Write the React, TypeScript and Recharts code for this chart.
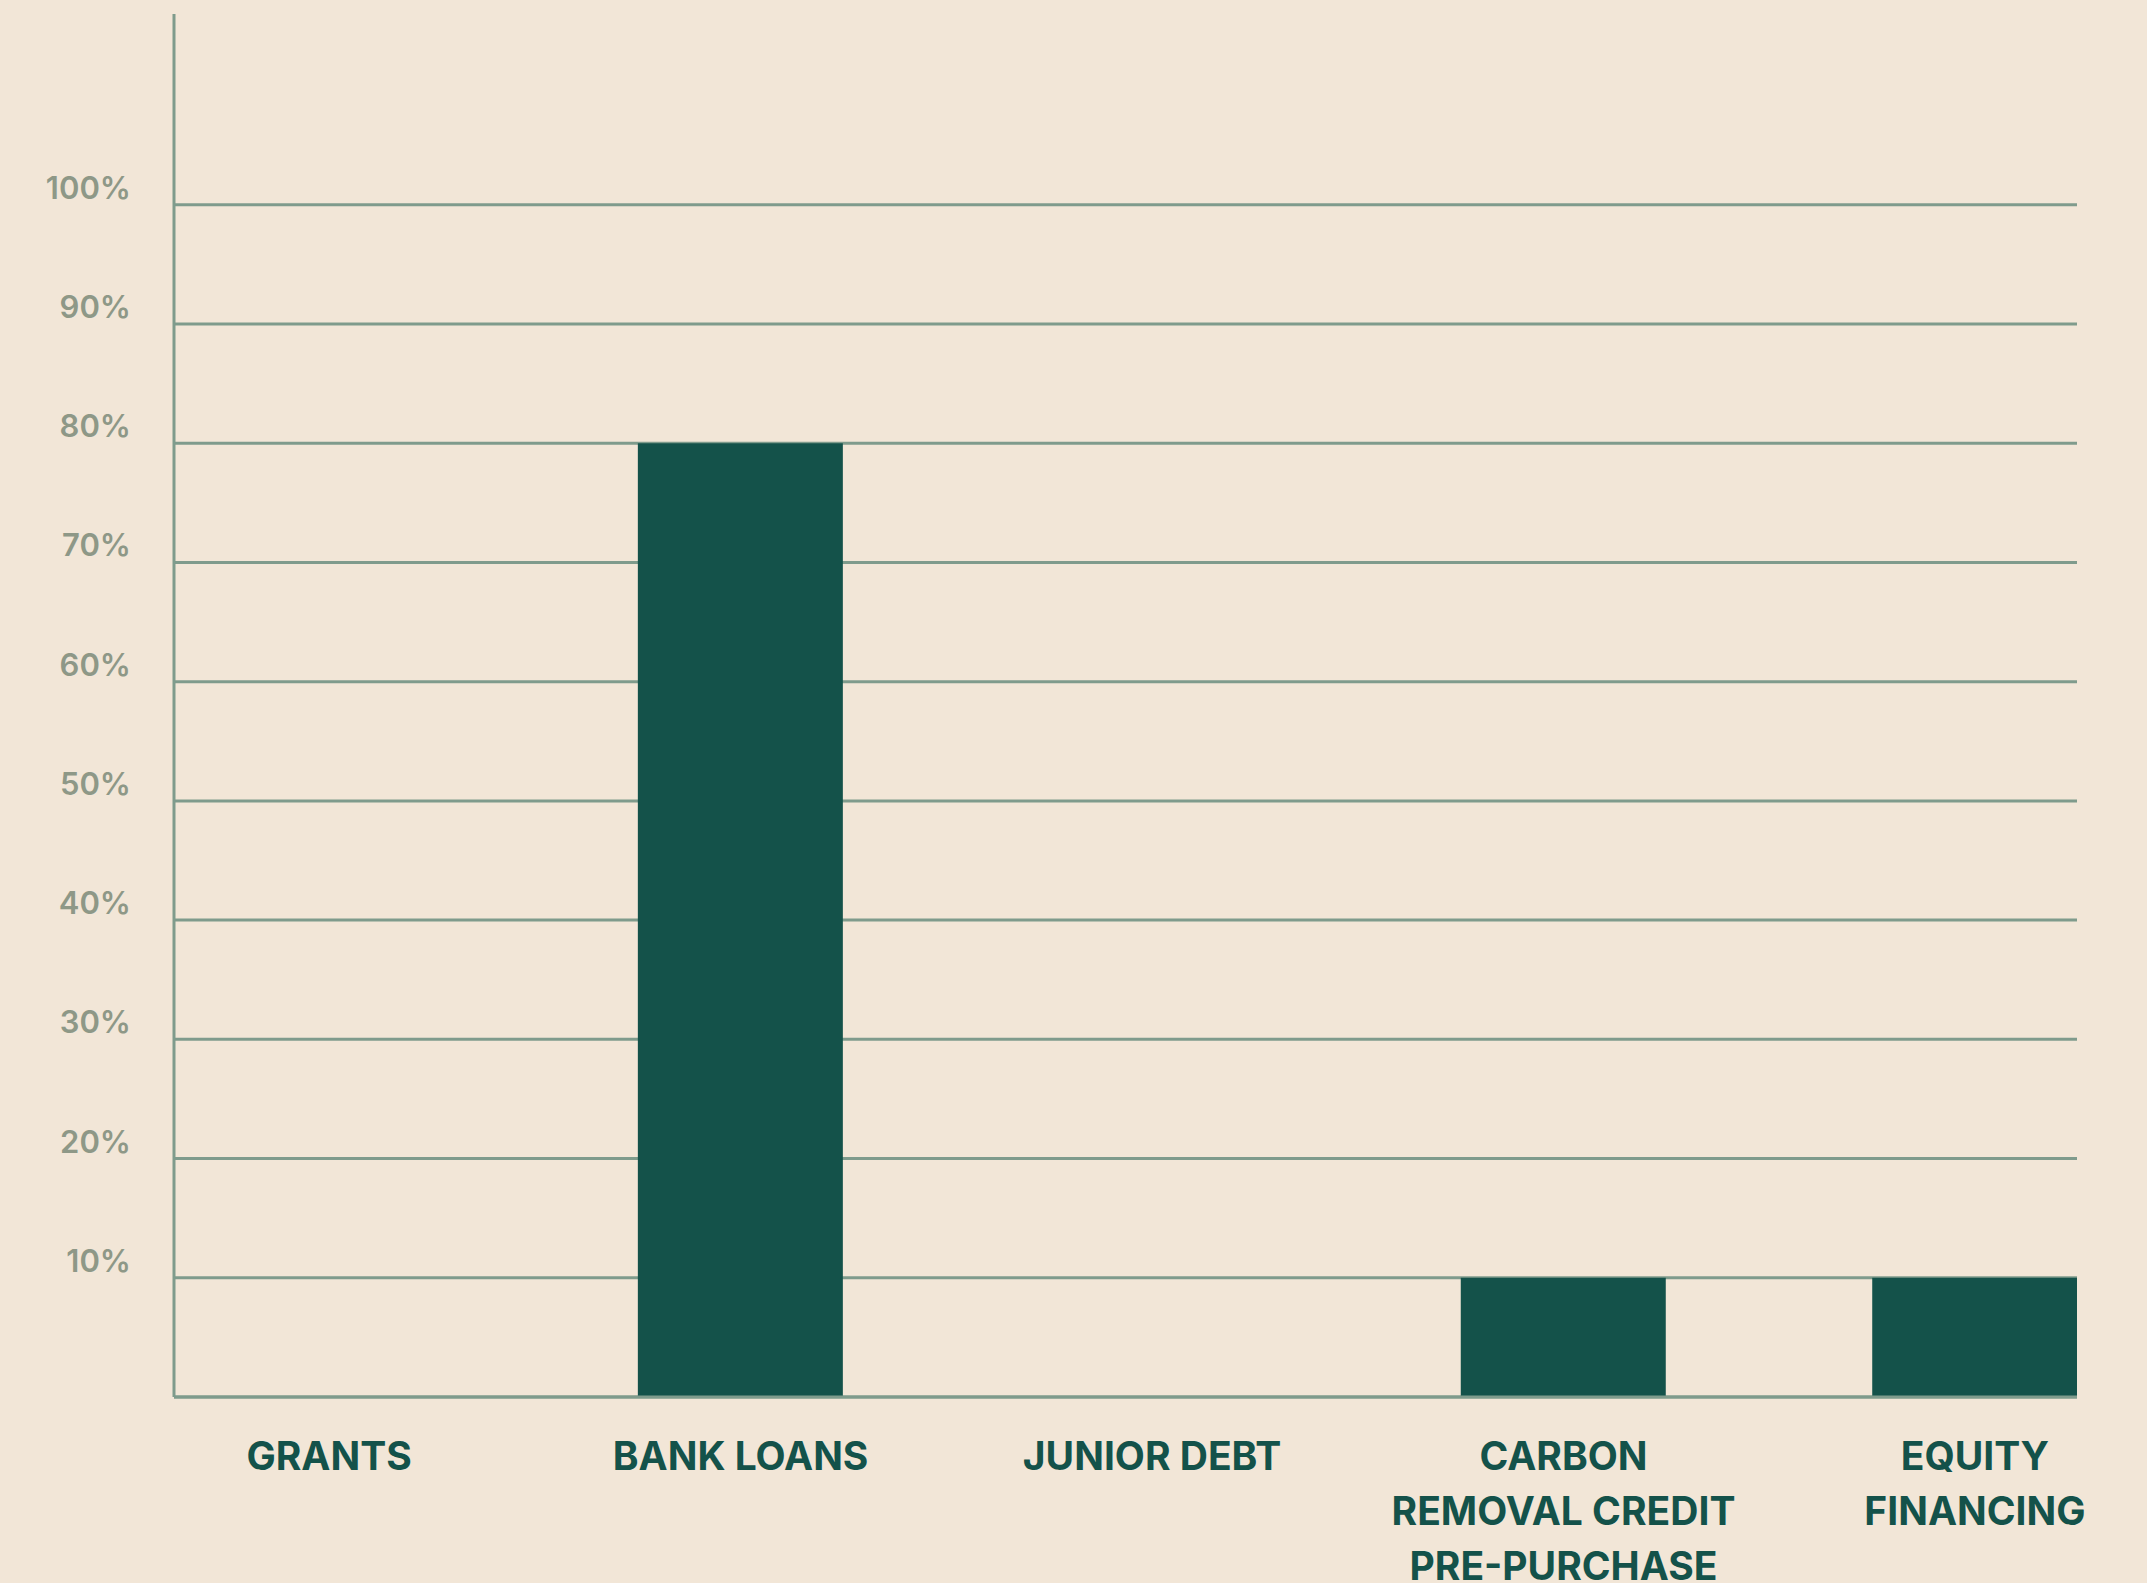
import React from 'react';
import { BarChart, Bar, XAxis, YAxis, CartesianGrid } from 'recharts';

const categories = [
  'GRANTS',
  'BANK LOANS',
  'JUNIOR DEBT',
  'CARBON\nREMOVAL CREDIT\nPRE-PURCHASE',
  'EQUITY\nFINANCING',
];
const shares = [0, 80, 0, 10, 10];
const yTicks = [0, 10, 20, 30, 40, 50, 60, 70, 80, 90, 100];

const data = categories.map((name, i) => ({ idx: i, name, value: shares[i] }));

const BG = '#f2e6d7';
const BAR = '#14524a';
const LINE = '#7f9b8c';
const TICK = '#8e9887';
const FONT = 'Inter, "Noto Sans", sans-serif';

const CategoryTick = ({ x, y, payload }: any) => {
  const lines = categories[payload.value].split('\n');
  return (
    <text x={x} y={y + 73} textAnchor="middle" fill={BAR} fontFamily={FONT} fontWeight={700} fontSize={39}>
      {lines.map((l, i) => (
        <tspan key={i} x={x} dy={i === 0 ? 0 : 55}>
          {l}
        </tspan>
      ))}
    </text>
  );
};

const PercentTick = ({ x, y, payload }: any) => {
  if (payload.value === 0) return null;
  return (
    <text x={x} y={y - 6} textAnchor="end" fill={TICK} fontFamily={FONT} fontWeight={600} fontSize={31}>
      {`${payload.value}%`}
    </text>
  );
};

export default function App() {
  return (
    <div style={{ position: 'absolute', left: 0, top: 0, width: 2147, height: 1583, background: BG }}>
      <BarChart width={2147} height={1583} data={data} margin={{ top: 14, right: 70, left: 0, bottom: 0 }}>
        <CartesianGrid vertical={false} horizontalValues={yTicks} stroke={LINE} strokeWidth={3} />
        <XAxis
          dataKey="idx"
          type="number"
          domain={[-0.377, 4.248]}
          ticks={[0, 1, 2, 3, 4]}
          allowDataOverflow
          height={186}
          tickLine={false}
          tickSize={0}
          tickMargin={0}
          stroke={LINE}
          strokeWidth={3}
          tick={<CategoryTick />}
        />
        <YAxis
          type="number"
          domain={[0, 116]}
          ticks={yTicks}
          allowDataOverflow
          width={174}
          tickLine={false}
          tickSize={0}
          tickMargin={43}
          stroke={LINE}
          strokeWidth={3}
          tick={<PercentTick />}
        />
        <Bar dataKey="value" fill={BAR} barSize={205} isAnimationActive={false} />
      </BarChart>
    </div>
  );
}
